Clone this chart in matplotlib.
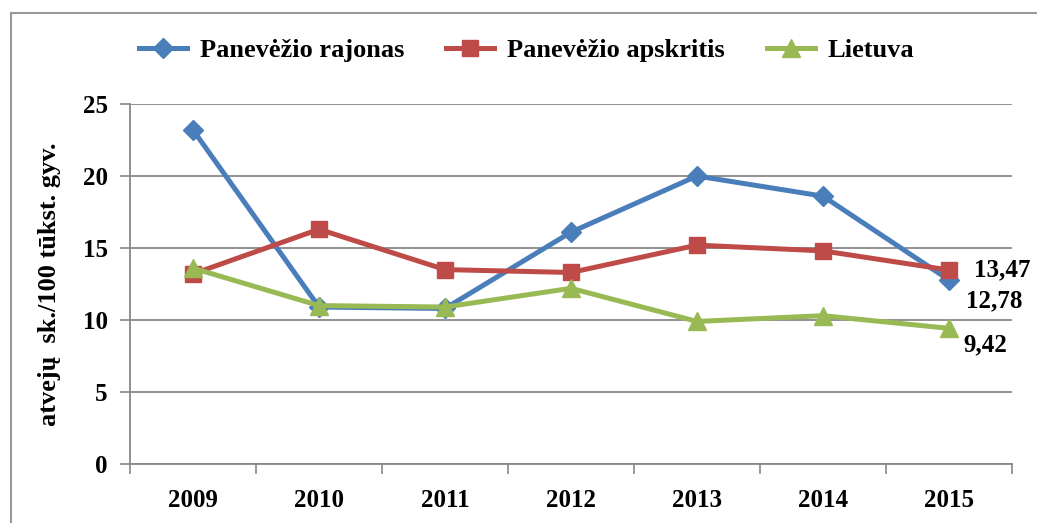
import matplotlib
matplotlib.use("Agg")
import matplotlib.pyplot as plt
from matplotlib.lines import Line2D

years = ["2009", "2010", "2011", "2012", "2013", "2014", "2015"]
rajonas = [23.2, 10.9, 10.8, 16.1, 20.0, 18.6, 12.78]
apskritis = [13.2, 16.3, 13.5, 13.3, 15.2, 14.8, 13.47]
lietuva = [13.6, 11.0, 10.9, 12.2, 9.9, 10.3, 9.42]
series_names = ["Panevėžio rajonas", "Panevėžio apskritis", "Lietuva"]
y_ticks = [0, 5, 10, 15, 20, 25]
ylabel = "atvejų  sk./100 tūkst. gyv."

plt.rcParams['font.family'] = ['Liberation Serif', 'DejaVu Serif']

W, H = 1037, 523
fig = plt.figure(figsize=(W / 100, H / 100), dpi=100)
ax = fig.add_axes([130 / W, 59 / H, 882 / W, 360 / H])

FS = 18
x = list(range(len(years)))
c_blue, c_red, c_green = "#4a7ebb", "#be4b48", "#98b954"
ax.plot(x, rajonas, color=c_blue, lw=3.6, marker="D", ms=10, mfc=c_blue, mec=c_blue, label=series_names[0], zorder=3)
ax.plot(x, apskritis, color=c_red, lw=3.6, marker="s", ms=12, mfc=c_red, mec=c_red, label=series_names[1], zorder=4)
ax.plot(x, lietuva, color=c_green, lw=3.6, marker="^", ms=13, mfc=c_green, mec=c_green, label=series_names[2], zorder=5)

ax.set_xlim(-0.5, len(years) - 0.5)
ax.set_ylim(0, 25)
ax.set_yticks(y_ticks)
ax.set_yticklabels([str(v) for v in y_ticks], fontsize=FS, fontweight="bold")
ax.set_xticks(x)
ax.set_xticklabels(years, fontsize=FS, fontweight="bold")
ax.tick_params(axis="x", length=0, pad=18)
ax.set_xticks([i - 0.5 for i in range(len(years) + 1)], minor=True)
ax.tick_params(axis="x", which="minor", length=7, color="#888888", width=1.2)
ax.tick_params(axis="y", length=7, color="#888888", width=1.2, pad=9)
ax.grid(axis="y", color="#888888", lw=1.3)
ax.set_axisbelow(True)
for s in ["top", "right"]:
    ax.spines[s].set_visible(False)
for s in ["left", "bottom"]:
    ax.spines[s].set_color("#888888")
    ax.spines[s].set_linewidth(1.3)

ax.set_ylabel(ylabel, fontsize=19, fontweight="bold", labelpad=16)

# data labels for the last year
ax.annotate(f"{apskritis[-1]:.2f}".replace(".", ","), (x[-1], apskritis[-1]), xytext=(18, 0),
            textcoords="offset points", fontsize=FS, fontweight="bold", va="center", ha="left")
ax.annotate(f"{rajonas[-1]:.2f}".replace(".", ","), (x[-1], rajonas[-1]), xytext=(12, -15),
            textcoords="offset points", fontsize=FS, fontweight="bold", va="center", ha="left")
ax.annotate(f"{lietuva[-1]:.2f}".replace(".", ","), (x[-1], lietuva[-1]), xytext=(10, -12),
            textcoords="offset points", fontsize=FS, fontweight="bold", va="center", ha="left")

leg = fig.legend(loc="center", bbox_to_anchor=(0.508, 1 - 50 / H), ncol=3, frameon=False,
                 prop={"size": 19, "weight": "bold"}, handlelength=1.8, columnspacing=1.6,
                 handletextpad=0.5)

# outer chart border (partially cropped)
fig.add_artist(Line2D([11 / W, 1.0], [1 - 13 / H, 1 - 13 / H], color="#999999", lw=1.5, transform=fig.transFigure))
fig.add_artist(Line2D([11 / W, 11 / W], [0, 1 - 13 / H], color="#999999", lw=1.5, transform=fig.transFigure))

fig.savefig("out.png", dpi=100)
